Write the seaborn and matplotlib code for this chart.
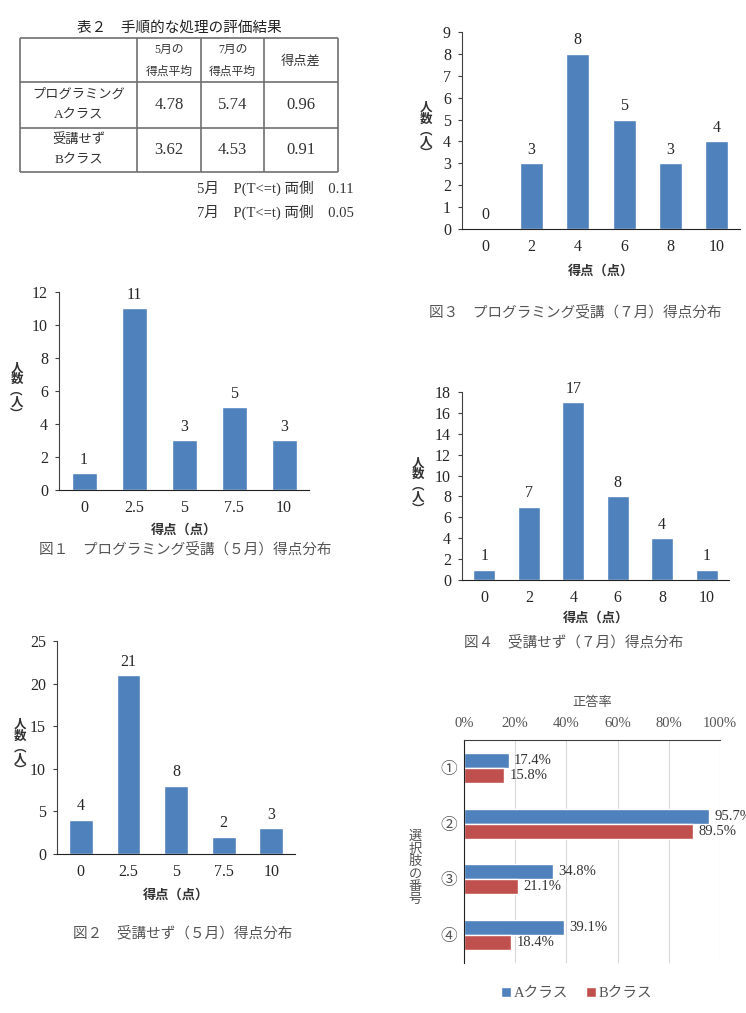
import numpy as np
import pandas as pd
import seaborn as sns
from matplotlib import pyplot as plt

plt.close('all')

sns.set_style('white')
# digits in a serif face, Japanese falls back to Noto CJK
plt.rcParams['font.family'] = ['Liberation Serif', 'Noto Sans CJK JP']
JpFont = ['Noto Sans CJK JP', 'DejaVu Sans']

# %% Data
# 表2
TabTitle = '表２　手順的な処理の評価結果'
TabColumns = ['5月の\n得点平均', '7月の\n得点平均', '得点差']
TabRows = ['プログラミング\nAクラス', '受講せず\nBクラス']
TabA = ['4.78', '5.74', '0.96']
TabB = ['3.62', '4.53', '0.91']
PNotes = ['5月　P(T<=t) 両側　0.11', '7月　P(T<=t) 両側　0.05']

# 図1  プログラミング受講 (5月)
Fig1Score = ['0', '2.5', '5', '7.5', '10']
Fig1Count = [1, 11, 3, 5, 3]
# 図2  受講せず (5月)
Fig2Score = ['0', '2.5', '5', '7.5', '10']
Fig2Count = [4, 21, 8, 2, 3]
# 図3  プログラミング受講 (7月)
Fig3Score = ['0', '2', '4', '6', '8', '10']
Fig3Count = [0, 3, 8, 5, 3, 4]
# 図4  受講せず (7月)
Fig4Score = ['0', '2', '4', '6', '8', '10']
Fig4Count = [1, 7, 17, 8, 4, 1]

# 正答率
Options = ['①', '②', '③', '④']
RateA = [17.4, 95.7, 34.8, 39.1]
RateB = [15.8, 89.5, 21.1, 18.4]
Classes = ['Aクラス', 'Bクラス']

Blue = '#4F81BD'
Red = '#C0504D'
Gray = '#404040'

W, H = 746, 1013
fig = plt.figure(figsize=(W / 100, H / 100), dpi=100)


def PixAxes(l, t, r, b):
    return fig.add_axes([l / W, 1 - b / H, (r - l) / W, (b - t) / H])


def CellText(cx, cy, txt, gap, **kw):
    # multi-line cell text with a fixed line gap in pixels
    lines = txt.split('\n')
    y0 = cy - gap * (len(lines) - 1) / 2
    for n, ln in enumerate(lines):
        ax0.text(cx, y0 + n * gap, ln, ha='center', va='center', **kw)


# overlay in pixel units for table and captions
ax0 = fig.add_axes([0, 0, 1, 1])
ax0.set_xlim(0, W)
ax0.set_ylim(H, 0)
ax0.axis('off')

# %% 表2
ColX = [20, 137, 201, 264, 338]
RowY = [38, 82, 128, 172]
ax0.hlines(RowY, ColX[0], ColX[-1], color='#707070', lw=1.2)
ax0.vlines(ColX, RowY[0], RowY[-1], color='#707070', lw=1.2)
ax0.text((ColX[0] + ColX[-1]) / 2, 28, TabTitle, ha='center', va='center',
         fontsize=10.5, family=JpFont, color='#222222')
for i, txt in enumerate(TabColumns):
    cx = (ColX[i + 1] + ColX[i + 2]) / 2
    CellText(cx, 61, txt, 22, fontsize=8.5 if '\n' in txt else 9.5,
             color='#333333')
for j, (lab, vals) in enumerate(zip(TabRows, [TabA, TabB])):
    cy = (RowY[j + 1] + RowY[j + 2]) / 2
    CellText((ColX[0] + ColX[1]) / 2, cy, lab, 21, fontsize=9.5,
             color='#333333')
    for i, v in enumerate(vals):
        ax0.text((ColX[i + 1] + ColX[i + 2]) / 2, cy, v, ha='center',
                 va='center', fontsize=12, color='#333333')
for k, txt in enumerate(PNotes):
    ax0.text(354, 188 + k * 24, txt, ha='right', va='center', fontsize=10.5,
             color='#333333')


# %% bar charts of score distributions
def PlotCounts(Rect, Score, Count, yMax, yStep, LabY, XLabY, Caption, CapXY):
    ax = PixAxes(*Rect)
    sns.barplot(x=Score, y=Count, order=Score, color=Blue, saturation=1,
                width=0.5, ax=ax)
    ax.bar_label(ax.containers[0], padding=4, fontsize=11.5)
    ax.set_xlim(-0.5, len(Score) - 0.5)
    ax.set_ylim(0, yMax)
    ax.set_yticks(np.arange(0, yMax + 1, yStep))
    ax.tick_params(axis='x', length=0, pad=7, labelsize=11.5)
    ax.tick_params(axis='y', length=3, width=0.8, pad=5, labelsize=11.5,
                   left=True, color=Gray)
    sns.despine(ax=ax)
    ax.spines['left'].set_color(Gray)
    ax.spines['bottom'].set_color('#222222')
    ax.set_xlabel('得点（点）', family=JpFont, fontsize=9.5, va='center',
                  fontweight='bold', color='#333333')
    ax.xaxis.set_label_coords(0.5, XLabY)
    ax.set_ylabel('人\n数\n︵\n人\n︶', family=JpFont, fontsize=9,
                  fontweight='bold', rotation=0, linespacing=0.85,
                  ha='center', va='center', color='#333333')
    ax.yaxis.set_label_coords(*LabY)
    ax0.text(*CapXY, Caption, ha='center', va='center', fontsize=10.5,
             color='#555555')
    return ax


PlotCounts((59, 292, 309, 490), Fig1Score, Fig1Count, 12, 2,
           (-0.17, 0.5), -0.2, '図１　プログラミング受講（５月）得点分布', (185, 549))
PlotCounts((57, 641, 295, 854), Fig2Score, Fig2Count, 25, 5,
           (-0.155, 0.5), -0.19, '図２　受講せず（５月）得点分布', (183, 933))
PlotCounts((462, 32, 740, 229), Fig3Score, Fig3Count, 9, 1,
           (-0.13, 0.5), -0.21, '図３　プログラミング受講（７月）得点分布', (575, 312))
PlotCounts((462, 392, 729, 580), Fig4Score, Fig4Count, 18, 2,
           (-0.165, 0.5), -0.2, '図４　受講せず（７月）得点分布', (574, 642))

# %% 正答率 (horizontal grouped bars)
dfRate = pd.DataFrame({
    '選択肢': Options * 2,
    '正答率': RateA + RateB,
    'クラス': [Classes[0]] * len(Options) + [Classes[1]] * len(Options),
})

ax5 = PixAxes(464, 740, 720, 963)
sns.barplot(data=dfRate, x='正答率', y='選択肢', hue='クラス', order=Options,
            hue_order=Classes, orient='h', palette=[Blue, Red], saturation=1,
            width=0.54, ax=ax5)
for cont, vals in zip(ax5.containers, [RateA, RateB]):
    ax5.bar_label(cont, labels=[f'{v:.1f}%' for v in vals], padding=4,
                  fontsize=10.5, color='#333333', clip_on=False)
ax5.set_xlim(0, 100)
ax5.set_xticks(np.arange(0, 101, 20))
ax5.set_xticklabels([f'{v}%' for v in range(0, 101, 20)])
ax5.xaxis.tick_top()
ax5.xaxis.set_label_position('top')
ax5.tick_params(axis='x', length=0, pad=7, labelsize=10.5, labelcolor='#555555')
ax5.tick_params(axis='y', length=0, pad=5, labelsize=12, labelcolor='#555555')
ax5.grid(axis='x', color='#D9D9D9', lw=0.8)
ax5.set_axisbelow(True)
for s in ['right', 'bottom']:
    ax5.spines[s].set_visible(False)
ax5.spines['left'].set_color('#222222')
ax5.spines['top'].set_color('#404040')
ax5.spines['top'].set_linewidth(0.8)
ax5.set_xlabel('正答率', family=JpFont, fontsize=9.5, color='#555555',
               va='center')
ax5.xaxis.set_label_coords(0.5, 1.166)
ax5.set_ylabel('選\n択\n肢\nの\n番\n号', family=JpFont, fontsize=9.5,
               rotation=0, linespacing=0.95, ha='center', va='center',
               color='#555555')
ax5.yaxis.set_label_coords(-0.19, 0.426)
sns.move_legend(ax5, 'center', bbox_to_anchor=(0.44, -0.135), ncol=2,
                frameon=False, title=None, handlelength=0.7,
                handleheight=0.7, handletextpad=0.2, columnspacing=1.2,
                fontsize=10.5)
for t in ax5.get_legend().get_texts():
    t.set_color('#555555')

fig.savefig('out.png', dpi=100)
